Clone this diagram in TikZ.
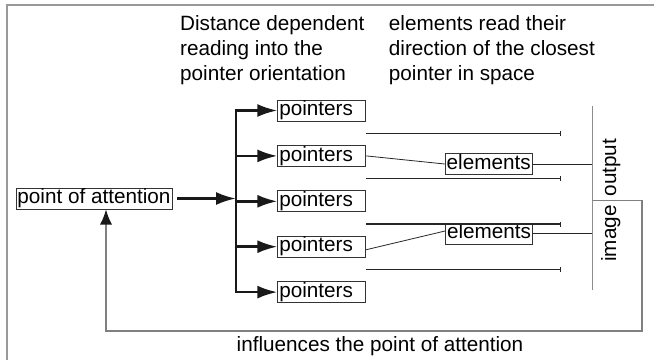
\documentclass[tikz,border=0pt]{standalone}
\usepackage{fontspec}
\setmainfont{Liberation Sans}
\usetikzlibrary{arrows.meta,positioning,calc}

\begin{document}
\begin{tikzpicture}[
  x=1pt, y=1pt,
  font=\fontsize{20.7}{25}\selectfont,
  node distance=23.4pt,
  box/.style={draw=black!80, line width=0.9pt, inner xsep=1.5pt, inner ysep=0.8pt,
              text height=15pt, text depth=4.5pt},
  ptr/.style={box, text width=85pt, align=left},
  note/.style={inner sep=0pt, align=left, anchor=north west},
  ar/.style={-{Latex[length=20pt,width=13pt]}, line width=2.6pt, black!90},
  gap/.style={-{Bar[width=5pt]}, line width=1.2pt, black!85},
  link/.style={line width=0.8pt, black!85},
  fb/.style={-{Latex[length=15pt,width=12pt,color=black!90]}, line width=1.2pt, gray}
]
\useasboundingbox (0,0) rectangle (654,-360);
\draw[gray!80, line width=1.5pt] (7,-360) -- (7,-5) -- (654,-5);

\node[note] (hd1) at (180,-15) {Distance dependent\\reading into the\\pointer orientation};
\node[note] (hd2) at (388.7,-15) {elements read their\\direction of the closest\\pointer in space};

\node[box] (poa) at (94,-198.5) {point of attention};
\coordinate (fork) at (236,-198.5);

\node[ptr] (p1) at (321.8,-110.5) {pointers};
\node[ptr, below=of p1] (p2) {pointers};
\node[ptr, below=of p2] (p3) {pointers};
\node[ptr, below=of p3] (p4) {pointers};
\node[ptr, below=of p4] (p5) {pointers};

\node[box] (e1) at (488.7,-164) {elements};
\node[box] (e2) at (489,-233.5) {elements};

\coordinate (imgtop) at (592.7,-106);
\coordinate (imgbot) at (592.7,-290);
\coordinate (fbstart) at (592.7,-200.7);
\coordinate (fbturn) at (642,-331);
\node[rotate=90, inner sep=0pt, text height=15pt, text depth=4.5pt] (outlbl) at (610.75,-167.5) {output};
\node[rotate=90, inner sep=0pt, text height=15pt, text depth=4.5pt] (imglbl) at (610.75,-233.5) {image};

\draw[ar] ([xshift=5pt]poa.east) -- (fork);
\foreach \n in {p1,p2,p3,p4,p5} \draw[ar] (fork) |- (\n.west);

\foreach \a/\b in {p1/p2,p2/p3,p3/p4,p4/p5}
  \draw[gap] ($(\a.south east)!.5!(\b.north east)$) -- ++(195,0);

\draw[link] (p2.east) -- (e1.west);
\draw[link] ([yshift=-3pt]p4.east) -- ([yshift=2.5pt]e2.west);
\draw[gap, line width=0.8pt] (e1.east) -- (e1.east -| imgtop);
\draw[gap, line width=0.8pt] (e2.east) -- (e2.east -| imgtop);

\draw[gray!90, line width=1.3pt] (imgtop) -- (imgbot);
\draw[fb] (fbstart) -| (fbturn) -| ([xshift=12pt]poa.south);

\node[anchor=base, inner sep=0pt] (fblbl) at (380,-351) {influences the point of attention};
\end{tikzpicture}
\end{document}
